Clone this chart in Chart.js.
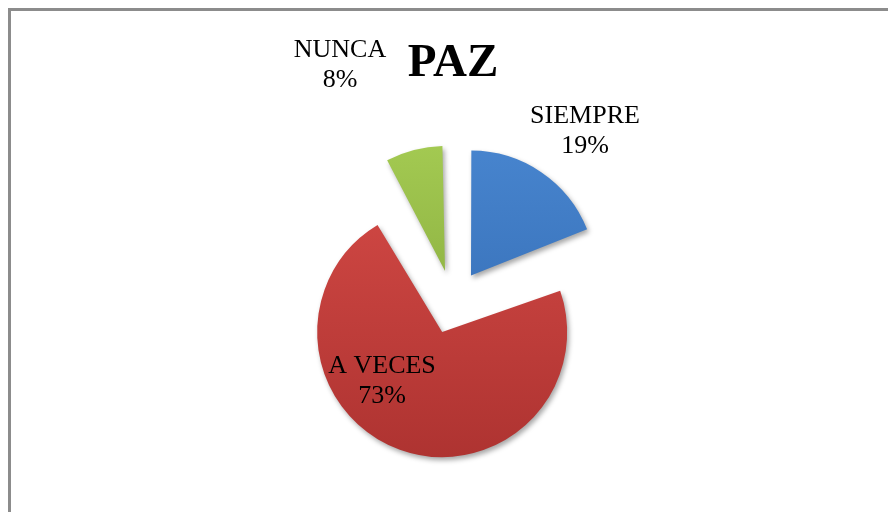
<!DOCTYPE html>
<html>
<head>
<meta charset="utf-8">
<script src="https://cdn.jsdelivr.net/npm/chart.js@4.4.1/dist/chart.umd.min.js"></script>
<style>
  html, body { margin: 0; padding: 0; background: #fff; overflow: hidden; }
  #wrap { position: relative; width: 888px; height: 512px; overflow: hidden; }
  #frame { position: absolute; left: 8px; top: 8px; width: 1000px; height: 1000px; border: 3px solid #8c8c8c; }
  #pie { position: absolute; left: 0; top: 0; }
</style>
</head>
<body>
<div id="wrap">
  <div id="frame"></div>
  <canvas id="pie" width="888" height="512"></canvas>
</div>
<script>
const title = 'PAZ';
const categories = ['SIEMPRE', 'A VECES', 'NUNCA'];
const values = [19, 73, 8];

// colores: claro arriba, oscuro abajo
const topColors = ['#4a88d2', '#d44a46', '#a8cf55'];
const bottomColors = ['#2f66ad', '#a9302e', '#7d9f36'];

const RADIUS = 125;
const OFFSET = 128; // chart.js divide el offset entre 4
// posicion de las etiquetas respecto al centro (primera linea)
const labelOffsets = [[132, -179], [-71, 71], [-113, -245]];

const total = values.reduce((a, b) => a + b, 0);

const fixRadius = {
  id: 'fixRadius',
  afterDatasetUpdate(chart, args) {
    args.meta.data.forEach(arc => {
      const c = arc.endAngle - arc.startAngle;
      const fix = 1 - Math.sin(Math.min(Math.PI, c));
      arc.outerRadius = RADIUS - fix * OFFSET / 4;
    });
  },
  beforeDatasetsDraw(chart) {
    const ctx = chart.ctx;
    ctx.save();
    ctx.shadowColor = 'rgba(0,0,0,0.35)';
    ctx.shadowBlur = 5;
    ctx.shadowOffsetX = 2;
    ctx.shadowOffsetY = 3;
  },
  afterDatasetsDraw(chart) {
    chart.ctx.restore();
  }
};

const textPlugin = {
  id: 'textPlugin',
  afterDraw(chart) {
    const ctx = chart.ctx;
    const arcs = chart.getDatasetMeta(0).data;
    const cx = arcs[0].x, cy = arcs[0].y;
    ctx.save();
    ctx.fillStyle = '#000';
    ctx.textAlign = 'center';
    ctx.textBaseline = 'alphabetic';
    ctx.font = 'bold 47px "Liberation Serif", "Times New Roman", serif';
    ctx.fillText(title, cx, 76);
    ctx.font = '26px "Liberation Serif", "Times New Roman", serif';
    categories.forEach((name, i) => {
      const [dx, dy] = labelOffsets[i];
      const pct = Math.round(values[i] / total * 100) + '%';
      ctx.fillText(name, cx + dx, cy + dy);
      ctx.fillText(pct, cx + dx, cy + dy + 30);
    });
    ctx.restore();
  }
};

new Chart(document.getElementById('pie'), {
  type: 'pie',
  data: {
    labels: categories,
    datasets: [{
      data: values,
      borderWidth: 0,
      offset: OFFSET,
      hoverOffset: 0,
      backgroundColor(context) {
        const chart = context.chart;
        const i = context.dataIndex;
        if (!chart.chartArea) return topColors[i];
        const cy = (chart.chartArea.top + chart.chartArea.bottom) / 2;
        const g = chart.ctx.createLinearGradient(0, cy - RADIUS - 40, 0, cy + RADIUS + 40);
        g.addColorStop(0, topColors[i]);
        g.addColorStop(1, bottomColors[i]);
        return g;
      }
    }]
  },
  options: {
    responsive: false,
    animation: false,
    devicePixelRatio: 1,
    radius: RADIUS,
    layout: { padding: { left: 18, right: 0, top: 92, bottom: 0 } },
    plugins: {
      legend: { display: false },
      tooltip: { enabled: false },
      title: { display: false }
    },
    events: []
  },
  plugins: [fixRadius, textPlugin]
});
</script>
</body>
</html>
